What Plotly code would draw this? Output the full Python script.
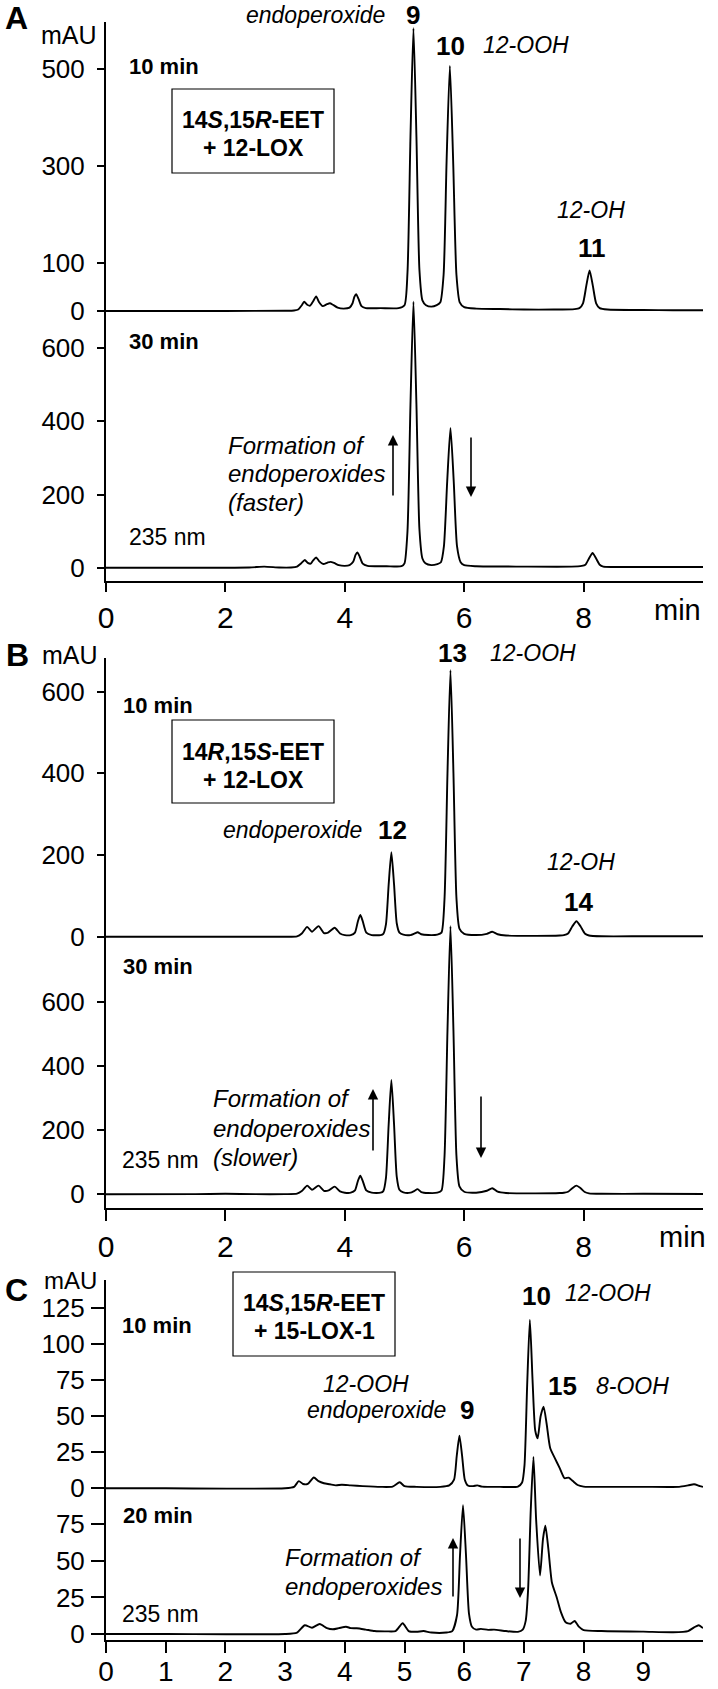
import plotly.graph_objects as go

W, H = 718, 1689

# ---------------- data (retention time [min], absorbance [mAU]) ----------------
A10 = [(0, 0), (1.0, 0), (2.0, 0), (3.0, 0.5), (3.15, 1), (3.22, 3), (3.28, 12), (3.32, 19), (3.37, 13),
       (3.42, 11), (3.47, 20), (3.52, 30), (3.57, 18), (3.63, 10), (3.70, 14), (3.75, 16), (3.80, 13),
       (3.88, 7), (3.98, 5), (4.08, 7), (4.13, 16), (4.16, 29), (4.19, 35), (4.23, 25), (4.28, 10),
       (4.35, 6), (4.6, 6), (4.9, 6), (5.0, 12), (5.05, 80), (5.10, 360), (5.15, 585), (5.20, 360),
       (5.25, 85), (5.30, 22), (5.36, 12), (5.45, 9), (5.54, 12), (5.60, 18), (5.655, 75), (5.705, 310),
       (5.76, 507), (5.815, 310), (5.87, 75), (5.925, 18), (6.0, 8), (6.2, 5), (6.6, 4), (7.0, 3),
       (7.5, 3), (7.85, 4), (7.93, 6), (7.99, 16), (8.045, 52), (8.10, 84), (8.155, 52), (8.21, 16),
       (8.27, 6), (8.4, 3), (9.0, 2), (9.5, 1.5), (10.0, 1.5)]

A30 = [(0, 0), (1.0, 0), (2.4, 0.5), (2.65, 3), (2.9, 0.5), (3.1, 0.5), (3.2, 3), (3.27, 12), (3.33, 21),
       (3.38, 13), (3.43, 11), (3.47, 20), (3.52, 28), (3.57, 18), (3.64, 10), (3.71, 14), (3.76, 16),
       (3.82, 13), (3.90, 7), (4.0, 5), (4.08, 7), (4.14, 16), (4.18, 35), (4.21, 42), (4.25, 30),
       (4.30, 11), (4.38, 5), (4.7, 4), (4.95, 4), (5.0, 12), (5.05, 100), (5.10, 445), (5.15, 727),
       (5.20, 445), (5.25, 105), (5.30, 25), (5.35, 12), (5.45, 7), (5.55, 10), (5.61, 15), (5.66, 58),
       (5.715, 235), (5.77, 382), (5.825, 235), (5.88, 58), (5.94, 15), (6.0, 7), (6.2, 4), (7.0, 3),
       (7.8, 3), (7.97, 5), (8.03, 8), (8.09, 25), (8.15, 40), (8.21, 25), (8.27, 8), (8.33, 3),
       (8.5, 2), (9.0, 2), (10.0, 2)]

B10 = [(0, 0), (1.0, 0), (3.0, 0), (3.2, 1), (3.28, 8), (3.37, 24), (3.45, 12), (3.56, 26), (3.65, 9),
       (3.72, 10), (3.83, 22), (3.92, 8), (4.0, 4), (4.1, 4), (4.17, 10), (4.22, 38), (4.26, 53),
       (4.30, 38), (4.36, 10), (4.45, 4), (4.6, 4), (4.645, 7), (4.69, 31), (4.735, 128), (4.78, 207),
       (4.825, 128), (4.87, 33), (4.915, 10), (4.98, 5), (5.1, 4), (5.17, 8), (5.22, 11), (5.28, 6),
       (5.4, 4), (5.55, 5), (5.62, 10), (5.67, 92), (5.72, 400), (5.77, 653), (5.82, 400), (5.87, 95),
       (5.92, 20), (6.0, 7), (6.2, 4), (6.38, 7), (6.47, 12), (6.56, 6), (6.7, 3), (7.2, 2), (7.6, 3),
       (7.67, 4), (7.74, 8), (7.81, 25), (7.88, 38), (7.95, 25), (8.02, 8), (8.09, 3), (8.3, 1),
       (9.0, 1), (10.0, 1)]

B30 = [(0, 0), (1.5, 0.5), (2.0, 1.5), (2.5, 0.5), (3.0, 0.5), (3.2, 2), (3.28, 10), (3.37, 27),
       (3.45, 14), (3.56, 27), (3.65, 11), (3.73, 12), (3.83, 24), (3.92, 9), (4.0, 5), (4.1, 5),
       (4.17, 12), (4.22, 42), (4.26, 58), (4.30, 42), (4.36, 12), (4.45, 5), (4.6, 5), (4.645, 10),
       (4.69, 52), (4.735, 218), (4.78, 356), (4.825, 218), (4.87, 55), (4.915, 14), (4.98, 6),
       (5.1, 5), (5.16, 10), (5.22, 16), (5.28, 7), (5.4, 4), (5.55, 5), (5.62, 12), (5.67, 117),
       (5.72, 510), (5.77, 835), (5.82, 510), (5.87, 120), (5.92, 25), (6.0, 8), (6.2, 5), (6.38, 11),
       (6.47, 19), (6.56, 8), (6.7, 4), (7.2, 3), (7.6, 4), (7.67, 5), (7.74, 8), (7.81, 19),
       (7.88, 27), (7.95, 19), (8.02, 7), (8.09, 3), (8.3, 1.5), (9.0, 1.5), (10.0, 1)]

C10 = [(0, 0), (1.0, 0), (3.0, 0), (3.15, 1), (3.23, 5), (3.30, 3), (3.38, 3), (3.48, 7.5), (3.56, 5),
       (3.65, 3.5), (3.75, 2.8), (3.85, 2), (3.95, 2.5), (4.1, 2), (4.3, 1.5), (4.6, 1), (4.8, 1.2),
       (4.92, 4.2), (5.0, 1.5), (5.2, 1), (5.6, 1), (5.75, 2), (5.83, 6), (5.875, 22.5), (5.92, 36.6),
       (5.965, 22.5), (6.01, 6), (6.06, 2), (6.15, 1.5), (6.22, 2), (6.3, 1.2), (6.6, 1), (6.9, 1.2),
       (6.97, 4), (7.01, 16), (7.055, 72), (7.10, 117), (7.145, 75), (7.19, 40), (7.23, 34.7),
       (7.28, 50), (7.33, 56.7), (7.38, 45), (7.44, 28), (7.52, 20.8), (7.60, 14), (7.68, 7),
       (7.75, 7.4), (7.82, 5), (7.90, 2.3), (8.0, 1.2), (8.5, 1), (9.0, 1), (9.6, 1), (9.75, 2),
       (9.85, 2.8), (9.95, 1.5), (10.0, 1)]

C20 = [(0, 0), (1.0, 0), (3.0, 0), (3.2, 1), (3.33, 6), (3.45, 4.3), (3.58, 6.8), (3.70, 4), (3.80, 3.2),
       (3.90, 4), (4.02, 5), (4.10, 4), (4.20, 3.9), (4.35, 3), (4.5, 2), (4.7, 1.8), (4.85, 2),
       (4.97, 7.3), (5.07, 2), (5.2, 1.5), (5.32, 2), (5.45, 1), (5.7, 1), (5.8, 2), (5.88, 13),
       (5.93, 54), (5.98, 88), (6.03, 54), (6.08, 14), (6.13, 5), (6.2, 3), (6.28, 3.5), (6.4, 2.8),
       (6.5, 3), (6.7, 2), (6.9, 1.5), (6.98, 3), (7.03, 9), (7.07, 30), (7.115, 85), (7.16, 121),
       (7.205, 78), (7.27, 40), (7.32, 65), (7.36, 74), (7.41, 58), (7.47, 35), (7.55, 25),
       (7.62, 15), (7.70, 8), (7.78, 7), (7.85, 8.9), (7.92, 5), (8.0, 2.7), (8.3, 2), (9.0, 1.6),
       (9.5, 1.2), (9.75, 2), (9.85, 4.5), (9.93, 6), (10.0, 4)]

XTICKS_AB = [0, 2, 4, 6, 8]
XTICKS_C = [0, 1, 2, 3, 4, 5, 6, 7, 8, 9]
YTICKS_A10 = [0, 100, 300, 500]
YTICKS_A30 = [0, 200, 400, 600]
YTICKS_B = [0, 200, 400, 600]
YTICKS_C = [0, 25, 50, 75, 100, 125]
YTICKS_C20 = [0, 25, 50, 75]

FONT = "Liberation Sans, Arial, Helvetica, sans-serif"


def px(x):
    return x / W


def py(y):
    return 1 - y / H


X0, X1 = 106, 703
CY = -5  # vertical shift of panel C (px)

# data, domain top px, domain bottom px, zero px, px per mAU, yticks, x axis shown, xticks,
# x ticklen, y ticklen, y label standoff, x label size, x label standoff
panels = [
    (A10, 22, 318, 311.0, 0.4833, YTICKS_A10, False, None, 0, 7, 7, 0, 0),
    (A30, 296, 581, 567.7, 0.366, YTICKS_A30, True, XTICKS_AB, 9, 7, 7, 30, 0),
    (B10, 658, 943, 936.7, 0.4083, YTICKS_B, False, None, 0, 7, 7, 0, 0),
    (B30, 920, 1207.7, 1194.3, 0.321, YTICKS_B, True, XTICKS_AB, 11, 7, 7, 30, 0),
    (C10, 1285 + CY, 1500 + CY, 1493.3 + CY, 1.44, YTICKS_C, False, None, 0, 13, 1, 0, 0),
    (C20, 1455 + CY, 1645 + CY, 1639.0 + CY, 1.463, YTICKS_C20, True, XTICKS_C, 11, 13, 1, 28, -6),
]

fig = go.Figure()
layout = dict(width=W, height=H, margin=dict(l=0, r=0, t=0, b=0),
              paper_bgcolor="white", plot_bgcolor="rgba(0,0,0,0)",
              font=dict(family=FONT, color="black"), showlegend=False)

for i, (data, top, bot, zero, scale, yt, xshow, xt, xlen, ylen, ystand, xsize, xstand) in enumerate(panels, 1):
    sfx = "" if i == 1 else str(i)
    xa, ya = "x" + sfx, "y" + sfx
    fig.add_trace(go.Scatter(
        x=[p[0] for p in data], y=[p[1] for p in data], mode="lines",
        line=dict(color="black", width=1.9, shape="spline", smoothing=0.6),
        xaxis=xa, yaxis=ya, hoverinfo="skip", showlegend=False))
    xax = dict(domain=[px(X0), px(X1)], range=[0, 10], anchor=ya, showgrid=False,
               zeroline=False, automargin=False, fixedrange=True)
    if xshow:
        xax.update(showline=True, linecolor="black", linewidth=2, ticks="outside",
                   ticklen=xlen, tickwidth=2, tickcolor="black", tickvals=xt,
                   tickfont=dict(size=xsize, family=FONT), ticklabelstandoff=xstand)
    else:
        xax.update(visible=False)
    yax = dict(domain=[py(bot), py(top)], range=[(zero - bot) / scale, (zero - top) / scale],
               anchor=xa, showgrid=False, zeroline=False, automargin=False, fixedrange=True,
               showline=True, linecolor="black", linewidth=2, ticks="outside",
               ticklen=ylen, tickwidth=2, tickcolor="black", tickvals=yt,
               tickfont=dict(size=26, family=FONT), ticklabelstandoff=ystand)
    layout["xaxis" + sfx] = xax
    layout["yaxis" + sfx] = yax

ann = []


def txt(x, y, s, size=22, xanchor="center"):
    ann.append(dict(x=px(x), y=py(y), xref="paper", yref="paper", text=s, showarrow=False,
                    xanchor=xanchor, yanchor="middle", font=dict(size=size, family=FONT, color="black")))


def arrow(x, y_tail, y_tip):
    ann.append(dict(x=px(x), y=py(y_tip), xref="paper", yref="paper", text="", showarrow=True,
                    ax=0, ay=y_tail - y_tip, arrowhead=2, arrowsize=1.3, arrowwidth=1.6,
                    arrowcolor="black", standoff=0))


shapes = []


def box(x0, y0, x1, y1):
    shapes.append(dict(type="rect", xref="paper", yref="paper", x0=px(x0), x1=px(x1),
                       y0=py(y1), y1=py(y0), line=dict(color="black", width=1.2),
                       fillcolor="rgba(0,0,0,0)"))


# ---- Panel A ----
txt(16, 18, "<b>A</b>", 32)
txt(69, 35, "mAU", 25)
txt(387, 15, "<i>endoperoxide</i>", 23, "right")
txt(413, 15, "<b>9</b>", 26)
txt(450, 46, "<b>10</b>", 26)
txt(481, 45, "<i>12-OOH</i>", 23, "left")
txt(127, 66, "<b>10 min</b>", 22, "left")
box(172, 89, 334, 173)
txt(253, 120, "<b>14<i>S</i>,15<i>R</i>-EET</b>", 23)
txt(253, 148, "<b>+ 12-LOX</b>", 23)
txt(591, 210, "<i>12-OH</i>", 23)
txt(592, 248, "<b>11</b>", 26)
txt(127, 342, "<b>30 min</b>", 22, "left")
txt(226, 446, "<i>Formation of</i>", 24, "left")
txt(226, 474, "<i>endoperoxides</i>", 24, "left")
txt(226, 502, "<i>(faster)</i>", 24, "left")
arrow(393, 497, 435)
arrow(471, 436, 497)
txt(127, 537, "235 nm", 23, "left")
txt(677, 610, "min", 29)

# ---- Panel B ----
txt(17, 655, "<b>B</b>", 32)
txt(70, 655, "mAU", 25)
txt(452, 653, "<b>13</b>", 26)
txt(488, 653, "<i>12-OOH</i>", 23, "left")
txt(121, 705, "<b>10 min</b>", 22, "left")
box(172, 720, 334, 803)
txt(253, 752, "<b>14<i>R</i>,15<i>S</i>-EET</b>", 23)
txt(253, 780, "<b>+ 12-LOX</b>", 23)
txt(364, 830, "<i>endoperoxide</i>", 23, "right")
txt(392, 830, "<b>12</b>", 26)
txt(581, 862, "<i>12-OH</i>", 23)
txt(578, 902, "<b>14</b>", 26)
txt(121, 967, "<b>30 min</b>", 22, "left")
txt(211, 1098, "<i>Formation of</i>", 24, "left")
txt(211, 1128, "<i>endoperoxides</i>", 24, "left")
txt(211, 1157, "<i>(slower)</i>", 24, "left")
arrow(373, 1152, 1089)
arrow(481, 1095, 1158)
txt(120, 1160, "235 nm", 23, "left")
txt(682, 1237, "min", 29)

# ---- Panel C ----
txt(16, 1295 + CY, "<b>C</b>", 32)
txt(70, 1285 + CY, "mAU", 24)
txt(120, 1330 + CY, "<b>10 min</b>", 22, "left")
box(233, 1277 + CY, 395, 1361 + CY)
txt(314, 1308 + CY, "<b>14<i>S</i>,15<i>R</i>-EET</b>", 23)
txt(314, 1336 + CY, "<b>+ 15-LOX-1</b>", 23)
txt(536, 1301 + CY, "<b>10</b>", 26)
txt(563, 1298 + CY, "<i>12-OOH</i>", 23, "left")
txt(562, 1391 + CY, "<b>15</b>", 26)
txt(594, 1391 + CY, "<i>8-OOH</i>", 23, "left")
txt(366, 1389 + CY, "<i>12-OOH</i>", 23)
txt(448, 1415 + CY, "<i>endoperoxide</i>", 23, "right")
txt(467, 1415 + CY, "<b>9</b>", 26)
txt(121, 1520 + CY, "<b>20 min</b>", 22, "left")
txt(283, 1562 + CY, "<i>Formation of</i>", 24, "left")
txt(283, 1591 + CY, "<i>endoperoxides</i>", 24, "left")
arrow(453, 1603 + CY, 1543 + CY)
arrow(520, 1542 + CY, 1603 + CY)
txt(120, 1619 + CY, "235 nm", 23, "left")

layout["annotations"] = ann
layout["shapes"] = shapes
fig.update_layout(**layout)
fig.write_html("out.html", config={"displayModeBar": False, "staticPlot": True},
               post_script="document.body.style.margin='0px';document.body.style.padding='0px';")
